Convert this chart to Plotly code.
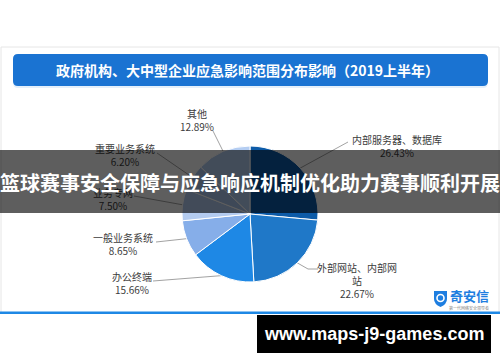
import math
import plotly.graph_objects as go

# ---------------- data ----------------
categories = ["内部服务器、数据库", "外部网站、内部网站", "办公终端", "一般业务系统",
              "业务专网", "重要业务系统", "其他"]
label_texts = ["内部服务器、数据库", "外部网站、内部网<br>站", "办公终端", "一般业务系统",
               "业务专网", "重要业务系统", "其他"]
values = [26.43, 22.67, 15.66, 8.65, 7.50, 6.20, 12.89]
colors = ["#0d5ba8", "#1f78c8", "#1e88e5", "#86aee9", "#b3cbf0", "#a9c3ec", "#b4cdf2"]
title_text = "政府机构、大中型企业应急影响范围分布影响（2019上半年）"
banner_text = "篮球赛事安全保障与应急响应机制优化助力赛事顺利开展"
watermark_text = "www.maps-j9-games.com"

# ---------------- layout geometry (pixels) ----------------
W, H = 500, 362
CX, CY, R = 250, 214, 68
# label line end points and text centers
line_ends = [[(348, 142)], [(308, 269), (318, 269)], [(153, 281)], [(156, 242)],
             [(134, 196)], [(157, 153)], [(213, 131)]]
text_pos = [(397, 148), (357, 282), (132, 285), (123, 246), (113, 201), (125, 157), (197, 122)]

FONT = "Noto Sans CJK SC"

fig = go.Figure()

# leader lines + labels (cartesian, pixel units)
total = sum(values)
cum = 0.0
for i, v in enumerate(values):
    theta = 2 * math.pi * (cum + v / 2) / total
    cum += v
    ex = CX + R * math.sin(theta)
    ey = CY - R * math.cos(theta)
    xs = [ex] + [p[0] for p in line_ends[i]]
    ys = [ey] + [p[1] for p in line_ends[i]]
    fig.add_trace(go.Scatter(x=xs, y=ys, mode="lines",
                             line=dict(color="#8a8a8a", width=0.8),
                             hoverinfo="skip", showlegend=False))
    fig.add_trace(go.Scatter(x=[text_pos[i][0]], y=[text_pos[i][1]], mode="text",
                             text=[f"{label_texts[i]}<br>{v:.2f}%"],
                             textposition="middle center",
                             textfont=dict(family=FONT, size=10, color="#3c3c3c"),
                             hoverinfo="skip", showlegend=False))

# pie
fig.add_trace(go.Pie(
    labels=categories, values=values, sort=False, direction="clockwise", rotation=0,
    marker=dict(colors=colors, line=dict(color="white", width=1)),
    textinfo="none", hoverinfo="label+percent", showlegend=False,
    domain=dict(x=[(CX - R) / W, (CX + R) / W],
                y=[(H - CY - R) / H, (H - CY + R) / H]),
))

shapes = []
# card
shapes.append(dict(type="rect", xref="x", yref="y", x0=1, x1=499, y0=47, y1=313,
                   line=dict(color="#e6e6e6", width=1), fillcolor="white", layer="below"))
# card bottom blue line
shapes.append(dict(type="rect", xref="x", yref="y", x0=0, x1=500, y0=311.5, y1=314,
                   line=dict(width=0), fillcolor="#1e88e5", layer="below"))
# title bar shadow + bar (rounded)
def rrect(x0, y0, x1, y1, r):
    return (f"M {x0+r} {y0} L {x1-r} {y0} Q {x1} {y0} {x1} {y0+r} L {x1} {y1-r} "
            f"Q {x1} {y1} {x1-r} {y1} L {x0+r} {y1} Q {x0} {y1} {x0} {y1-r} "
            f"L {x0} {y0+r} Q {x0} {y0} {x0+r} {y0} Z")
shapes.append(dict(type="path", xref="x", yref="y", path=rrect(13, 56, 488, 88, 5),
                   line=dict(width=0), fillcolor="rgba(30,120,210,0.12)", layer="below"))
shapes.append(dict(type="path", xref="x", yref="y", path=rrect(13, 54, 488, 86, 5),
                   line=dict(width=0), fillcolor="#1a73d2", layer="below"))
# logo shield
shapes.append(dict(type="path", xref="x", yref="y",
                   path="M 434 291 L 447 291 L 447 299 Q 447 304 440.5 307 Q 434 304 434 299 Z",
                   line=dict(width=0), fillcolor="#1e7ee0", layer="below"))
shapes.append(dict(type="circle", xref="x", yref="y", x0=437, x1=444, y0=294.5, y1=301.5,
                   line=dict(color="white", width=1.6), fillcolor="rgba(0,0,0,0)", layer="below"))
# overlay banner
shapes.append(dict(type="rect", xref="x", yref="y", x0=0, x1=500, y0=150, y1=213,
                   line=dict(width=0), fillcolor="rgba(0,0,0,0.63)", layer="above"))
# watermark box
shapes.append(dict(type="rect", xref="x", yref="y", x0=257, x1=491, y0=315, y1=353,
                   line=dict(width=0), fillcolor="black", layer="above"))

annotations = [
    dict(x=247, y=70, xref="x", yref="y", text=f"<b>{title_text}</b>", showarrow=False,
         font=dict(family=FONT, size=14, color="white"), xanchor="center", yanchor="middle"),
    dict(x=250, y=182, xref="x", yref="y", text=f"<b>{banner_text}</b>", showarrow=False,
         font=dict(family=FONT, size=20, color="white"), xanchor="center", yanchor="middle"),
    dict(x=374, y=334, xref="x", yref="y", text=f"<b>{watermark_text}</b>", showarrow=False,
         font=dict(family="Liberation Sans", size=18, color="white"),
         xanchor="center", yanchor="middle"),
    dict(x=469, y=295.5, xref="x", yref="y", text="<b>奇安信</b>", showarrow=False,
         font=dict(family=FONT, size=13, color="#1e7ee0"), xanchor="center", yanchor="middle"),
    dict(x=469, y=307.5, xref="x", yref="y", text="第一代网络安全领导者", showarrow=False,
         font=dict(family=FONT, size=4, color="#888888"), xanchor="center", yanchor="middle"),
]

fig.update_layout(
    width=W, height=H, margin=dict(l=0, r=0, t=0, b=0),
    paper_bgcolor="white", plot_bgcolor="rgba(0,0,0,0)",
    xaxis=dict(range=[0, W], visible=False, fixedrange=True, domain=[0, 1]),
    yaxis=dict(range=[H, 0], visible=False, fixedrange=True, domain=[0, 1]),
    shapes=shapes, annotations=annotations,
)

fig.write_html("out.html")
